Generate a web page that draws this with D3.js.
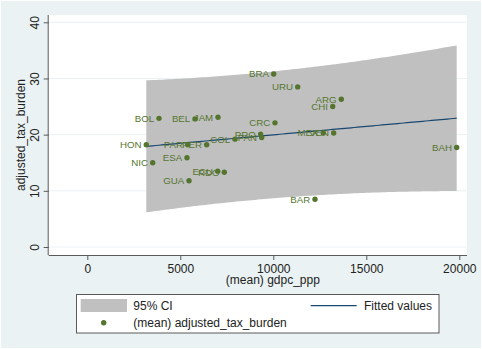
<!DOCTYPE html>
<html>
<head>
<meta charset="utf-8">
<script src="https://cdn.jsdelivr.net/npm/d3@7"></script>
<style>
  html, body { margin: 0; padding: 0; background: #fff; }
  svg { display: block; font-family: "Liberation Sans", Arial, sans-serif; }
</style>
</head>
<body>
<svg id="chart" width="482" height="349"></svg>
<script>
// Country codes, mean GDP per capita (PPP) and mean adjusted tax burden
const countries = ["BRA","URU","ARG","CHI","BOL","BEL","JAM","CRC","HON","PAR","PER","COL",
                   "PRO","PAN","MEX","VEN","BAH","NIC","ESA","ECU","RDO","GUA","BAR"];
const gdpcPpp   = [10021,11312,13656,13194,3855,5790,7027,10091,3172,5398,6419,7941,
                   9318,9376,12688,13247,19860,3516,5360,7011,7366,5468,12242];
const taxBurden = [30.8,28.5,26.3,25.0,22.9,22.8,23.1,22.1,18.2,18.2,18.2,19.2,
                   20.1,19.5,20.3,20.3,17.7,15.0,15.9,13.5,13.3,11.8,8.5];

const xTicks = [0, 5000, 10000, 15000, 20000];
const yTicks = [0, 10, 20, 30, 40];

const points = countries.map((c, i) => ({code: c, x: gdpcPpp[i], y: taxBurden[i]}));

// Colours (Stata s2color look)
const bgColour = '#eaf2f3';
const bandColour = '#c0c0c0';
const dotColour = '#55752f';
const lineColour = '#1a476f';
const axisColour = '#5a5a5a';

const svg = d3.select('#chart');

// Plot region
const plot = {left: 48.7, right: 467, top: 15, bottom: 255};

const x = d3.scaleLinear().domain([0, 20000]).range([87.3, 459.3]);
const y = d3.scaleLinear().domain([0, 40]).range([247, 22.3]);

// Background
svg.append('rect').attr('x', 1).attr('y', 1).attr('width', 480).attr('height', 347).attr('fill', bgColour);
svg.append('rect')
    .attr('x', plot.left).attr('y', plot.top)
    .attr('width', plot.right - plot.left).attr('height', plot.bottom - plot.top)
    .attr('fill', '#fff');

// Gridlines
svg.append('g').selectAll('line').data(yTicks).join('line')
    .attr('x1', plot.left).attr('x2', plot.right)
    .attr('y1', d => y(d)).attr('y2', d => y(d))
    .attr('stroke', bgColour).attr('stroke-width', 1);

// Linear fit with 95% forecast interval (like lfitci, stdf)
const n = points.length;
const mx = d3.mean(points, d => d.x), my = d3.mean(points, d => d.y);
const sxx = d3.sum(points, d => (d.x - mx) ** 2);
const slope = d3.sum(points, d => (d.x - mx) * (d.y - my)) / sxx;
const intercept = my - slope * mx;
const s = Math.sqrt(d3.sum(points, d => (d.y - intercept - slope * d.x) ** 2) / (n - 2));
const tCrit = 2.0796; // t(0.975, 21)

const [xmin, xmax] = d3.extent(points, d => d.x);
const grid = d3.range(0, 101).map(i => xmin + (xmax - xmin) * i / 100);
const band = grid.map(gx => {
    const fit = intercept + slope * gx;
    const se = s * Math.sqrt(1 + 1 / n + (gx - mx) ** 2 / sxx);
    return {x: gx, fit: fit, lo: fit - tCrit * se, hi: fit + tCrit * se};
});

svg.append('path').datum(band)
    .attr('fill', bandColour)
    .attr('d', d3.area().x(d => x(d.x)).y0(d => y(d.lo)).y1(d => y(d.hi)));

svg.append('path').datum(band)
    .attr('fill', 'none').attr('stroke', lineColour).attr('stroke-width', 1.2)
    .attr('d', d3.line().x(d => x(d.x)).y(d => y(d.fit)));

// Points and labels
const pts = svg.append('g');
pts.selectAll('circle').data(points).join('circle')
    .attr('cx', d => x(d.x)).attr('cy', d => y(d.y)).attr('r', 2.7)
    .attr('fill', dotColour);
pts.selectAll('text').data(points).join('text')
    .attr('x', d => x(d.x) - 4.8).attr('y', d => y(d.y)).attr('dy', '0.36em')
    .attr('text-anchor', 'end').attr('font-size', 9.7).attr('fill', dotColour)
    .text(d => d.code);

// Axes
const xAxis = svg.append('g').attr('transform', `translate(0,${plot.bottom})`)
    .call(d3.axisBottom(x).tickValues(xTicks).tickFormat(d3.format('d')).tickSize(5).tickPadding(4));
xAxis.select('.domain').attr('d', `M${plot.left},0.5H${plot.right}`);

const yAxis = svg.append('g').attr('transform', `translate(${plot.left},0)`)
    .call(d3.axisLeft(y).tickValues(yTicks).tickSize(5));
yAxis.select('.domain').attr('d', `M-0.5,${plot.top}V${plot.bottom}`);
yAxis.selectAll('.tick text')
    .attr('transform', 'rotate(-90)').attr('x', 0).attr('y', -9.5).attr('dy', 0)
    .attr('text-anchor', 'middle');

svg.selectAll('.domain, .tick line').attr('stroke', axisColour);
svg.selectAll('.tick text').attr('font-size', 12).attr('fill', '#222')
    .attr('font-family', '"Liberation Sans", Arial, sans-serif');

// Axis titles
svg.append('text').attr('x', (plot.left + plot.right) / 2 + 15).attr('y', 284)
    .attr('text-anchor', 'middle').attr('font-size', 12).attr('fill', '#222')
    .text('(mean) gdpc_ppp');
svg.append('text').attr('transform', `translate(25,${(plot.top + plot.bottom) / 2}) rotate(-90)`)
    .attr('text-anchor', 'middle').attr('font-size', 12).attr('fill', '#222')
    .text('adjusted_tax_burden');

// Legend
const legend = svg.append('g');
legend.append('rect').attr('x', 76.5).attr('y', 294.5).attr('width', 362.5).attr('height', 38.5)
    .attr('fill', '#fff').attr('stroke', axisColour).attr('stroke-width', 1);
legend.append('rect').attr('x', 80.7).attr('y', 299).attr('width', 46.3).attr('height', 13)
    .attr('fill', bandColour);
legend.append('text').attr('x', 133.3).attr('y', 310).attr('font-size', 12).attr('fill', '#222')
    .text('95% CI');
legend.append('line').attr('x1', 310.7).attr('x2', 356.7).attr('y1', 305.7).attr('y2', 305.7)
    .attr('stroke', lineColour).attr('stroke-width', 1.2);
legend.append('text').attr('x', 364).attr('y', 310).attr('font-size', 12).attr('fill', '#222')
    .text('Fitted values');
legend.append('circle').attr('cx', 103.7).attr('cy', 322.7).attr('r', 2.7).attr('fill', dotColour);
legend.append('text').attr('x', 133.3).attr('y', 326.5).attr('font-size', 12).attr('fill', '#222')
    .text('(mean) adjusted_tax_burden');
</script>
</body>
</html>
